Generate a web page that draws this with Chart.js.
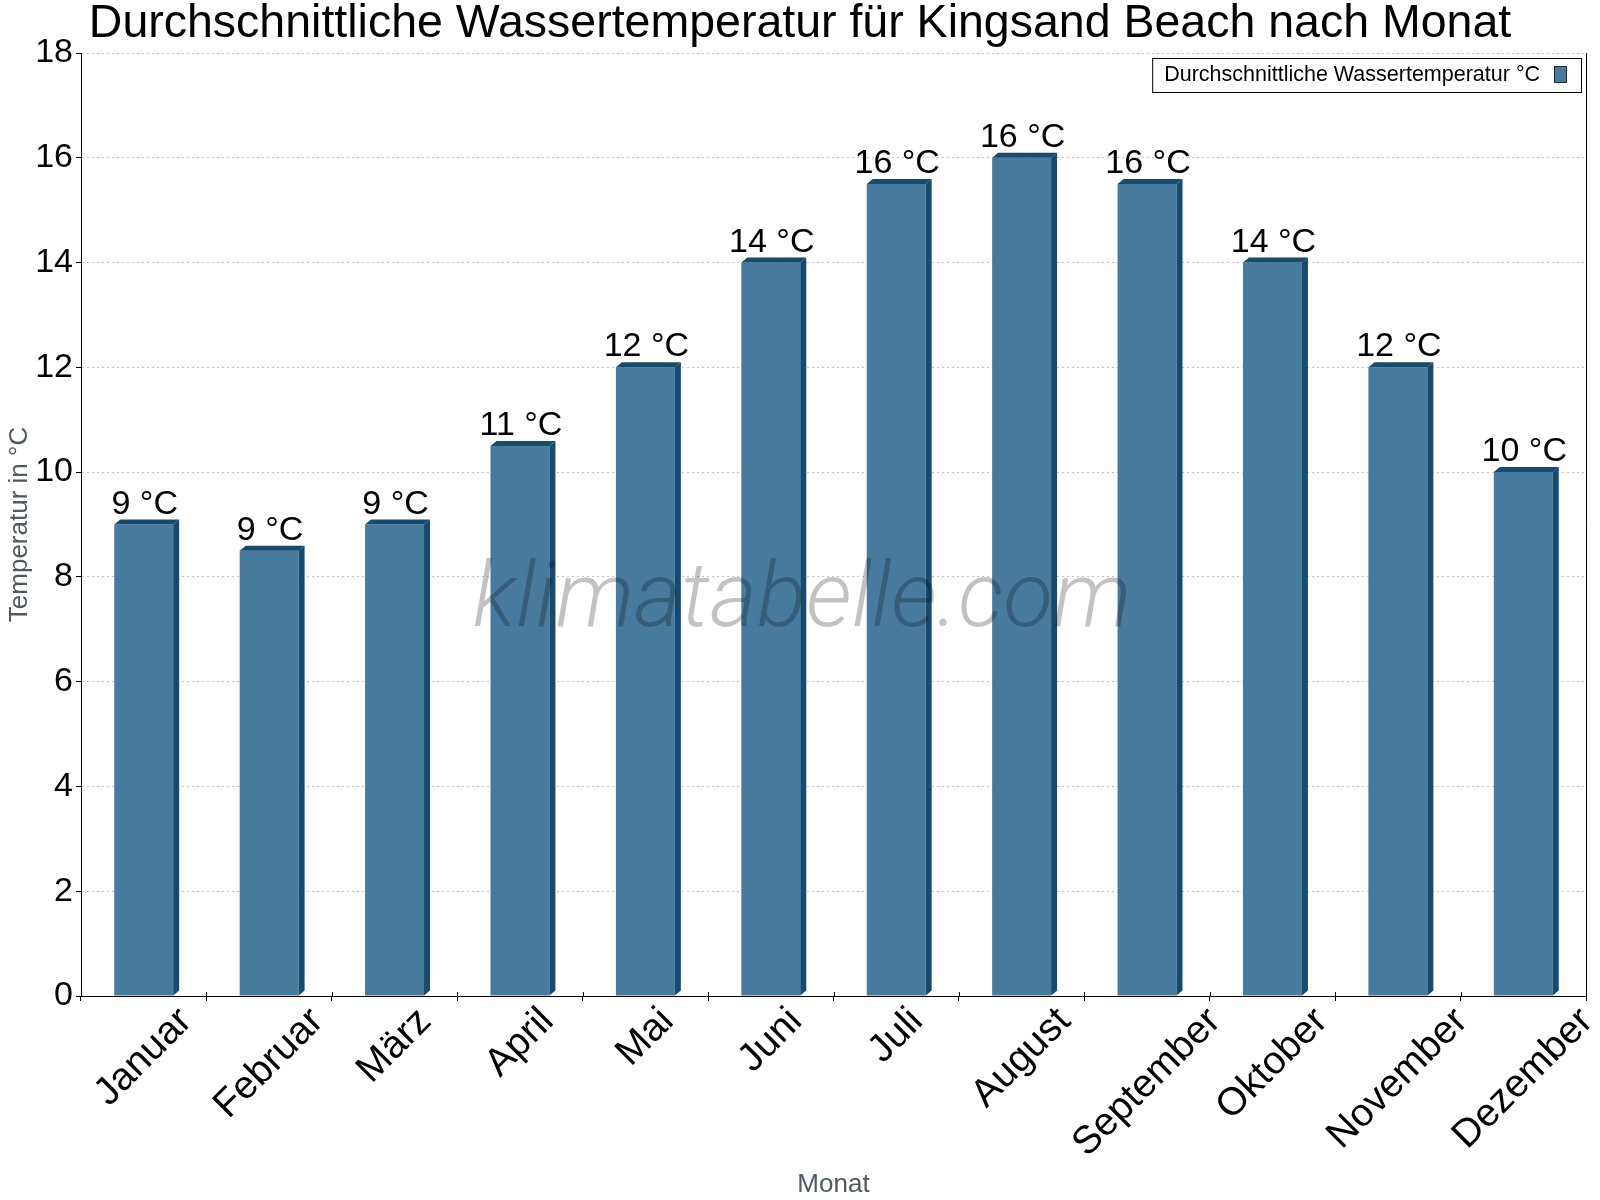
<!DOCTYPE html>
<html><head><meta charset="utf-8">
<script src="https://cdn.jsdelivr.net/npm/chart.js@4.4.1/dist/chart.umd.min.js"></script>
<style>html,body{margin:0;padding:0;background:#fff}#wrap{width:1600px;height:1200px}</style>
</head><body><div id="wrap"><canvas id="c" width="1600" height="1200"></canvas></div>
<script>
const categories = ['Januar','Februar','März','April','Mai','Juni','Juli','August','September','Oktober','November','Dezember'];
const waterTemp = [9, 8.5, 9, 10.5, 12, 14, 15.5, 16, 15.5, 14, 12, 10];
const yMin = 0, yMax = 18, yStep = 2;
const seriesLabel = 'Durchschnittliche Wassertemperatur °C';
const titleText = 'Durchschnittliche Wassertemperatur für Kingsand Beach nach Monat';
const yAxisTitle = 'Temperatur in °C';
const xAxisTitle = 'Monat';
const watermarkText = 'klimatabelle.com';
const unit = ' °C';

const FRONT = '#477b9d';
const DARK = '#174a6c';
const FONT = '"Liberation Sans", Arial, sans-serif';

const bar3d = {
  id: 'bar3d',
  afterDatasetsDraw(chart) {
    const ctx = chart.ctx;
    const meta = chart.getDatasetMeta(0);
    const dx = 6, dy = 5;
    ctx.save();
    meta.data.forEach((bar, i) => {
      const p = bar.getProps(['x','y','base','width'], true);
      const x0 = p.x - p.width/2, x1 = p.x + p.width/2, top = p.y, bottom = p.base;
      ctx.fillStyle = DARK;
      ctx.beginPath();
      ctx.moveTo(x0, top); ctx.lineTo(x0+dx, top-dy); ctx.lineTo(x1+dx, top-dy); ctx.lineTo(x1, top); ctx.closePath(); ctx.fill();
      ctx.beginPath();
      ctx.moveTo(x1, top); ctx.lineTo(x1+dx, top-dy); ctx.lineTo(x1+dx, bottom-dy); ctx.lineTo(x1, bottom); ctx.closePath(); ctx.fill();
      ctx.fillStyle = '#000';
      ctx.font = '34px ' + FONT;
      ctx.textAlign = 'center';
      ctx.textBaseline = 'alphabetic';
      const v = chart.data.datasets[0].data[i];
      ctx.fillText(Math.round(v) + unit, p.x + 1, top - 11);
    });
    ctx.restore();
  },
  afterDraw(chart) {
    const ctx = chart.ctx;
    const ca = chart.chartArea;
    const xs = chart.scales.x;
    ctx.save();
    // title
    ctx.font = '46.5px ' + FONT;
    ctx.fillStyle = '#000';
    ctx.textAlign = 'center';
    ctx.textBaseline = 'alphabetic';
    ctx.fillText(titleText, 800, 37);
    // right frame line
    ctx.strokeStyle = '#000'; ctx.lineWidth = 1;
    ctx.beginPath(); ctx.moveTo(Math.round(ca.right)+0.5, ca.top); ctx.lineTo(Math.round(ca.right)+0.5, ca.bottom); ctx.stroke();
    // small inner parts of x tick marks
    ctx.beginPath();
    for (let i = 0; i <= categories.length; i++) {
      const gx = Math.round(xs.getPixelForTick(0) + (i - 0.5) * (xs.getPixelForTick(1) - xs.getPixelForTick(0))) + 0.5;
      ctx.moveTo(gx, ca.bottom - 4); ctx.lineTo(gx, ca.bottom);
    }
    ctx.stroke();
    // x labels (rotated, bounding box centred under each category)
    ctx.font = '39px ' + FONT;
    ctx.fillStyle = '#000';
    ctx.textAlign = 'center';
    ctx.textBaseline = 'middle';
    const h = 29;
    categories.forEach((lab, i) => {
      const x = xs.getPixelForTick(i);
      const w = ctx.measureText(lab).width;
      const s = (w + h) * Math.SQRT1_2;
      const cy = ca.bottom + 9 + s/2;
      ctx.save();
      ctx.translate(x, cy);
      ctx.rotate(-Math.PI/4);
      ctx.fillText(lab, 0, 0);
      ctx.restore();
    });
    // legend
    ctx.font = '21.5px ' + FONT;
    ctx.textAlign = 'left';
    const tw = ctx.measureText(seriesLabel).width;
    const right = Math.round(ca.right) - 5;
    const top = Math.round(ca.top) + 5;
    const boxW = 12 + tw + 14 + 13 + 14;
    const left = right - boxW;
    ctx.fillStyle = '#fff';
    ctx.fillRect(left, top, boxW, 34);
    ctx.strokeStyle = '#000';
    ctx.strokeRect(left + 0.5, top + 0.5, boxW, 34);
    ctx.fillStyle = '#000';
    ctx.fillText(seriesLabel, left + 12, top + 17.5);
    ctx.fillStyle = FRONT;
    ctx.fillRect(right - 27, top + 8, 13, 17);
    ctx.strokeStyle = '#1a2a36';
    ctx.strokeRect(right - 27 + 0.5, top + 8 + 0.5, 12, 16);
    // watermark
    ctx.font = 'italic 300 91px Roboto, sans-serif';
    ctx.textAlign = 'center';
    ctx.textBaseline = 'alphabetic';
    ctx.fillStyle = 'rgba(0,0,0,0.24)';
    ctx.fillText(watermarkText, 802, 626);
    ctx.restore();
  }
};

new Chart(document.getElementById('c'), {
  type: 'bar',
  data: {
    labels: categories,
    datasets: [{
      label: seriesLabel,
      data: waterTemp,
      backgroundColor: FRONT,
      borderWidth: 0,
      categoryPercentage: 1,
      barPercentage: 0.47
    }]
  },
  options: {
    responsive: false,
    devicePixelRatio: 1,
    animation: false,
    layout: { padding: { left: 0, right: 14, top: 53, bottom: 0 } },
    plugins: {
      legend: { display: false },
      tooltip: { enabled: false },
      title: { display: false }
    },
    scales: {
      x: {
        grid: { display: true, drawOnChartArea: false, drawTicks: true, tickLength: 5, tickColor: '#000', offset: true },
        border: { display: true, color: '#000', width: 1 },
        ticks: { display: false },
        title: { display: true, text: xAxisTitle, color: '#4f5962', font: { family: FONT, size: 26 }, padding: { top: 0, bottom: 0 } },
        afterFit(scale) { scale.height = 204; }
      },
      y: {
        min: yMin, max: yMax,
        ticks: { stepSize: yStep, color: '#000', font: { family: FONT, size: 34 }, padding: 3 },
        grid: { color: '#c4c4c4', lineWidth: 1, tickLength: 5, tickColor: '#000', tickBorderDash: [], tickWidth: 1 },
        border: { display: true, color: '#000', width: 1, dash: [2, 3] },
        title: { display: true, text: yAxisTitle, color: '#4f5962', font: { family: FONT, size: 26 }, padding: { top: 4, bottom: 0 } },
        afterFit(scale) { scale.width = 81; }
      }
    }
  },
  plugins: [bar3d]
});
</script>
</body></html>
